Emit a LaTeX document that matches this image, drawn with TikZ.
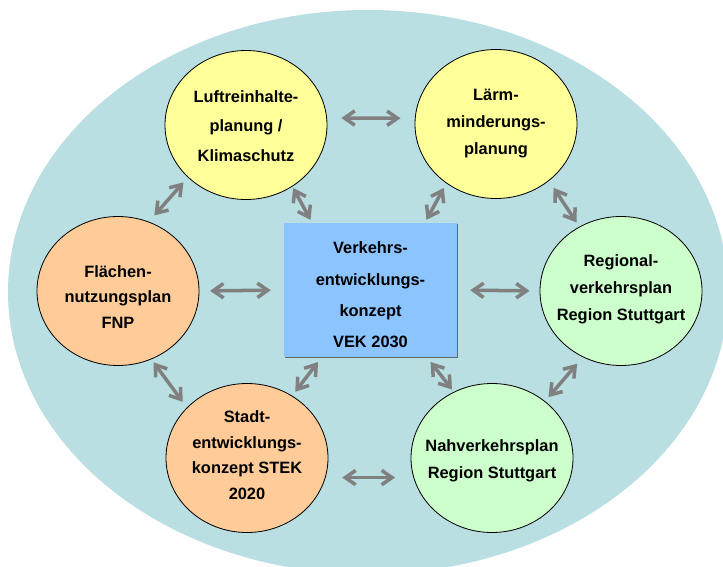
\documentclass[tikz,border=0pt]{standalone}
\usepackage{fontspec}
\setmainfont{Liberation Sans}
\usepackage{xcolor}
\usepackage{tikz}
\usetikzlibrary{shapes.geometric}
\usetikzlibrary{arrows.meta}
\usetikzlibrary{shadows}

\definecolor{bgcyan}{RGB}{185,223,227}
\definecolor{bubbleyellow}{RGB}{255,255,153}
\definecolor{bubbleorange}{RGB}{255,204,153}
\definecolor{bubblegreen}{RGB}{204,255,204}
\definecolor{vekblue}{RGB}{140,196,255}
\definecolor{linkgray}{RGB}{128,128,128}

\tikzset{
	bubble/.style={ellipse,draw=black,line width=0.7pt,inner sep=0pt,minimum width=48.6mm,minimum height=44.7mm},
	txt/.style={font=\fontsize{14}{#1}\selectfont\bfseries,align=center,inner sep=0pt},
	txt/.default=23pt,
	link/.style={{Straight Barb[length=3.1mm,width=4.3mm]}-{Straight Barb[length=3.1mm,width=4.3mm]},line width=3pt,draw=linkgray}
}

\begin{document}
\begin{tikzpicture}[x=0.3mm,y=-0.3mm]
		\useasboundingbox (0,0) rectangle (723,566);
		\clip (0,0) rectangle (723,566);
		\fill[bgcyan] (368,292) ellipse [x radius=108mm,y radius=84.6mm];
		\node[bubble,fill=bubbleyellow] (luft) at (246,125) {};
		\node[bubble,fill=bubbleyellow] (laerm) at (496,124) {};
		\node[bubble,fill=bubbleorange] (flaechen) at (118,291) {};
		\node[bubble,fill=bubblegreen] (regional) at (621,291) {};
		\node[bubble,fill=bubbleorange] (stadt) at (247,458) {};
		\node[bubble,fill=bubblegreen] (nah) at (492,458) {};
		\node[rectangle,fill=vekblue,inner sep=0pt,minimum width=51.9mm,minimum height=40.2mm,
			drop shadow={shadow xshift=0.3mm,shadow yshift=-0.3mm,fill=black!60,opacity=1}] (vek) at (370.5,290) {};
		\node[txt=25.2pt] (luft-t) at (246,126) {Luftreinhalte-\\planung /\\Klimaschutz};
		\node[txt] (laerm-t) at (496,124) {Lärm-\\minderungs-\\planung};
		\node[txt=21.8pt] (flaechen-t) at (118,297) {Flächen-\\nutzungsplan\\FNP};
		\node[txt] (regional-t) at (621,289) {Regional-\\verkehrsplan\\Region Stuttgart};
		\node[txt=21.9pt] (stadt-t) at (247,455) {Stadt-\\entwicklungs-\\konzept STEK\\2020};
		\node[txt] (nah-t) at (492,461) {Nahverkehrsplan\\Region Stuttgart};
		\node[txt=26.7pt] (vek-t) at (370.5,295) {Verkehrs-\\entwicklungs-\\konzept\\VEK 2030};
		\draw[link,shorten <=4.3mm,shorten >=4.3mm] (luft.5) -- (laerm.176);
		\draw[link,shorten <=3.2mm,shorten >=3.9mm] (flaechen.east) -- (vek.west);
		\draw[link,shorten <=3.9mm,shorten >=3mm] (vek.east) -- (regional.west);
		\draw[link,shorten <=5mm,shorten >=5.5mm] (stadt.-14) -- (nah.194);
		\draw[link,shorten <=0.5mm,shorten >=1mm] (luft.-53) -- (vek.131);
		\draw[link,shorten <=1.6mm,shorten >=1mm] (laerm.230) -- (vek.51);
		\draw[link,shorten <=2mm,shorten >=2.5mm] (luft.222) -- (flaechen.66);
		\draw[link,shorten <=2.5mm,shorten >=1.5mm] (laerm.-47) -- (regional.123);
		\draw[link,shorten <=1.1mm,shorten >=2.1mm] (flaechen.-64) -- (stadt.140);
		\draw[link,shorten <=1.8mm,shorten >=1.5mm] (vek.234) -- (stadt.54);
		\draw[link,shorten <=1.8mm,shorten >=0.9mm] (vek.310) -- (nah.120);
		\draw[link,shorten <=2.6mm,shorten >=1.6mm] (regional.240) -- (nah.47);
	\end{tikzpicture}
\end{document}
